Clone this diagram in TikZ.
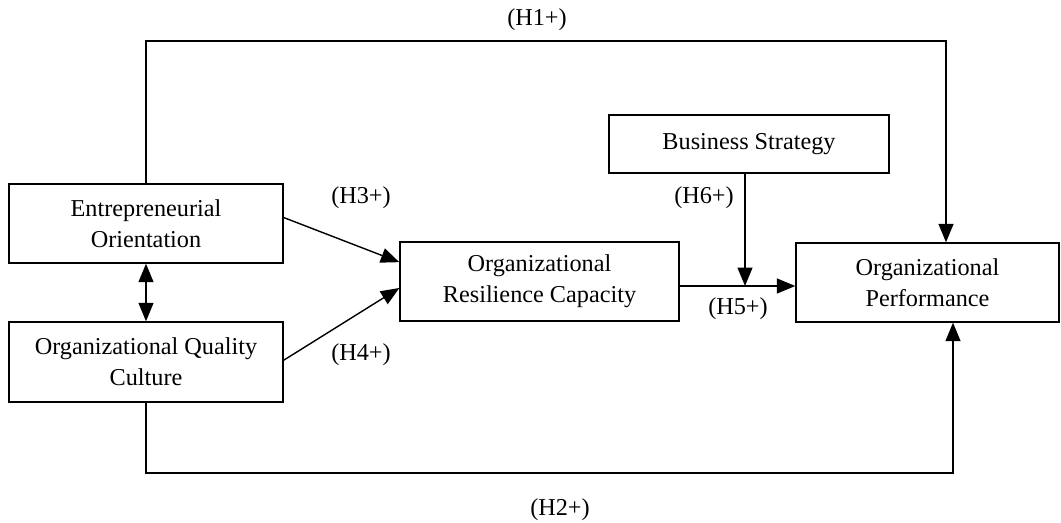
\documentclass[tikz,border=0pt]{standalone}
\usepackage{fontspec}
\setmainfont{Liberation Serif}
\usetikzlibrary{positioning,arrows.meta}

\begin{document}
\begin{tikzpicture}[x=0.02cm,y=-0.02cm,line width=0.8pt,>={Triangle[length=10.5pt,width=8.5pt]},box/.style={draw, align=center, shape=rectangle, inner sep=2pt, font=\fontsize{13.8}{17.6}\selectfont},hyp/.style={font=\fontsize{13.8}{17.6}\selectfont, inner sep=0pt}]
\useasboundingbox (0,0) rectangle (1061,523);
\node[box, minimum width=5.48cm, minimum height=1.58cm](eo) at (146,223.5) {Entrepreneurial\\Orientation};
\node[box, minimum width=5.48cm, minimum height=1.6cm](oqc) at (146,362) {Organizational Quality\\Culture};
\node[box, minimum width=5.58cm, minimum height=1.58cm](orc) at (539.5,281.5) {Organizational\\Resilience Capacity};
\node[box, minimum width=5.6cm, minimum height=1.16cm](bs) at (749,144) {Business Strategy};
\node[box, minimum width=5.26cm, minimum height=1.58cm](op) at (927.5,282.5) {Organizational\\Performance};
% hypotheses
\coordinate (h1) at (946,41);
\coordinate (h2) at (953,473);
\coordinate (h5) at (745,286);
\draw[->] (eo.north) |- (h1) -- (h1 |- op.north);
\draw[->] (oqc.south) |- (h2) -- (h2 |- op.south);
\draw[<->] (eo) -- (oqc);
\draw[->] ([yshift=3.4pt]eo.east) -- ([yshift=11pt]orc.west);
\draw[->] ([yshift=1pt]oqc.east) -- ([yshift=-3.7pt]orc.west);
\draw[->] (orc.east |- h5) -- (op.west |- h5);
\draw[->] (h5 |- bs.south) -- (h5);
\node[hyp](l1) at (537,20) {(H1+)};
\node[hyp](l2) at (560,510) {(H2+)};
\node[hyp](l3) at (361,198) {(H3+)};
\node[hyp](l4) at (361,355) {(H4+)};
\node[hyp](l5) at (738,309) {(H5+)};
\node[hyp](l6) at (704,198) {(H6+)};
\end{tikzpicture}
\end{document}
